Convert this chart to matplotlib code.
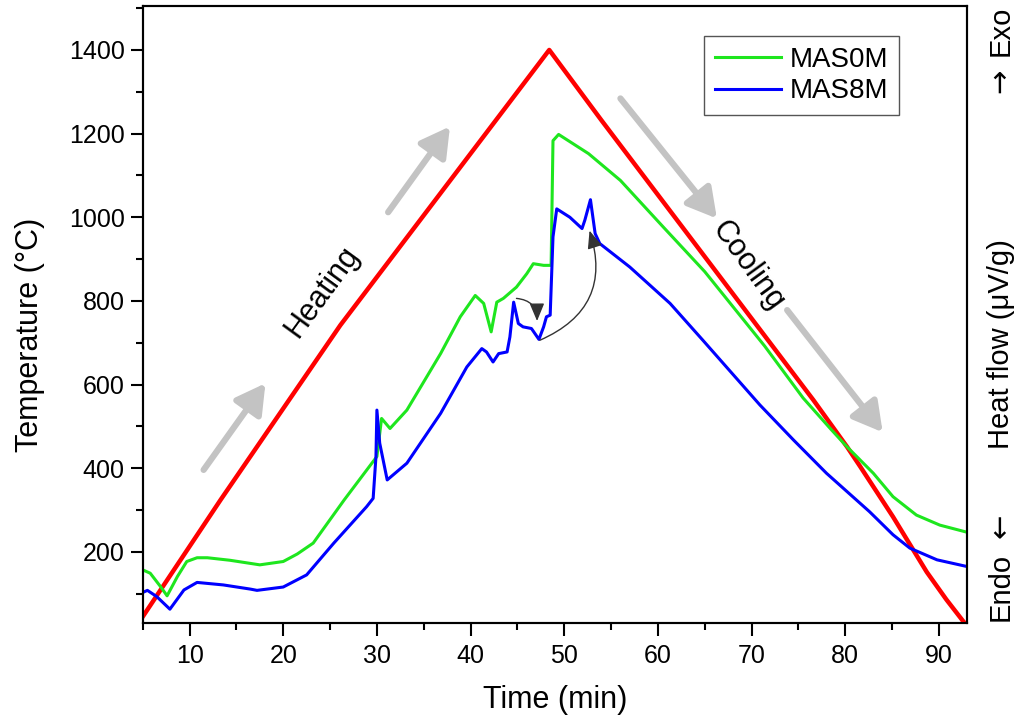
import matplotlib
matplotlib.use("Agg")
import matplotlib.pyplot as plt

plt.rcParams["font.family"] = ["Liberation Sans", "DejaVu Sans"]

# furnace programme (temperature, left axis)
t_temp = [5.0, 13.3, 26.1, 48.4, 54.0, 76.6, 80.2, 81.6, 85.1, 88.7, 90.8, 92.6, 93.2]
temp = [45, 324, 742, 1400, 1231, 563, 451, 404, 284, 152, 86, 34, 18]

# DTA signal MAS0M (arbitrary heat-flow units, drawn on the same scale)
t_mas0 = [5.0, 5.8, 6.9, 7.6, 8.7, 9.7, 10.8, 11.9, 14.3, 17.5, 20.0, 21.5, 23.2,
          26.5, 30.0, 30.5, 31.4, 33.2, 36.8, 38.9, 40.5, 41.4, 42.2, 42.8, 43.5,
          44.9, 46.0, 46.7, 47.8, 48.6, 48.8, 49.4, 52.6, 56.0, 60.6, 65.0, 71.4,
          75.5, 78.4, 80.2, 83.0, 85.1, 87.6, 90.1, 93.0]
hf_mas0 = [157, 149, 117, 95, 141, 177, 186, 186, 180, 169, 177, 195, 221,
           324, 428, 519, 495, 539, 674, 762, 813, 794, 726, 797, 806,
           833, 865, 889, 885, 885, 1183, 1198, 1152, 1088, 976, 870, 692,
           568, 495, 451, 388, 332, 288, 264, 247]

# DTA signal MAS8M
t_mas8 = [5.0, 5.5, 6.5, 7.9, 9.4, 10.8, 13.6, 16.5, 17.2, 20.0, 22.5, 25.4, 28.9,
          29.6, 29.9, 30.0, 30.3, 31.1, 33.2, 36.8, 39.6, 41.2, 41.7, 42.4, 43.0,
          43.9, 44.2, 44.6, 45.1, 45.6, 46.5, 47.3, 47.8, 48.1, 48.5, 48.8, 49.2,
          50.6, 51.9, 52.2, 52.8, 53.3, 53.8, 57.0, 61.3, 64.8, 70.9, 74.5, 78.0,
          82.6, 85.1, 86.9, 89.8, 93.0]
hf_mas8 = [103, 108, 93, 63, 109, 127, 121, 111, 108, 116, 145, 221, 308,
           328, 428, 539, 460, 372, 412, 531, 642, 686, 678, 654, 674,
           678, 714, 797, 746, 738, 734, 708, 738, 762, 766, 953, 1020,
           1000, 973, 993, 1042, 961, 937, 881, 794, 706, 551, 467, 388,
           296, 241, 209, 181, 165]

XLIM = (5, 93)
YLIM = (30, 1505)

fig = plt.figure(figsize=(10.21, 7.25), dpi=100)
ax = fig.add_axes([0.1398, 0.1407, 0.8073, 0.851])
ax.plot(t_temp, temp, color="#ff0000", lw=3.2, solid_joinstyle="round", zorder=3)

ax2 = ax.twinx()
ax2.plot(t_mas0, hf_mas0, color="#1ee61e", lw=2.2, solid_joinstyle="round", label="MAS0M")
ax2.plot(t_mas8, hf_mas8, color="#0000ff", lw=2.2, solid_joinstyle="round", label="MAS8M")
ax2.set_ylim(*YLIM)
ax2.set_yticks([])

ax.set_xlim(*XLIM)
ax.set_ylim(*YLIM)
ax.set_xticks(range(10, 91, 10))
ax.set_xticks(range(5, 93, 5), minor=True)
ax.set_yticks(range(200, 1401, 200))
ax.set_yticks(range(100, 1501, 100), minor=True)
ax.tick_params(which="major", direction="out", length=9, width=1.5, labelsize=18)
ax.tick_params(axis="y", which="major", pad=4)
ax.tick_params(axis="x", which="major", pad=6)
ax.tick_params(which="minor", direction="out", length=5, width=1.5)
for a in (ax, ax2):
    for s in a.spines.values():
        s.set_linewidth(1.5)

ax.set_xlabel("Time (min)", fontsize=22)
ax.set_ylabel("Temperature (\u00b0C)", fontsize=22)
ax.xaxis.set_label_coords(0.5, -0.1)
ax.yaxis.set_label_coords(-0.118, 0.467)

# right-hand heat-flow label
rx = 0.980
fig.text(rx, 0.957, "Exo", rotation=90, ha="center", va="center", fontsize=21)
fig.text(rx, 0.888, "\u2192", rotation=90, ha="center", va="center", fontsize=21,
         family="DejaVu Sans")
fig.text(rx, 0.525, "Heat flow (\u03bcV/g)", rotation=90, ha="center", va="center", fontsize=21)
fig.text(rx, 0.275, "\u2190", rotation=90, ha="center", va="center", fontsize=21,
         family="DejaVu Sans")
fig.text(rx, 0.19, "Endo", rotation=90, ha="center", va="center", fontsize=21)

# gray direction arrows
gray = dict(arrowstyle="-|>,head_length=0.8,head_width=0.45", color="#c3c3c3",
            lw=4.5, mutation_scale=22, shrinkA=0, shrinkB=0)
for start, end in [((11.5, 396), (18.1, 603)), ((31.2, 1012), (37.8, 1217)),
                   ((56.0, 1284), (66.3, 997)), ((73.8, 778), (84.0, 486))]:
    ax.annotate("", xy=end, xytext=start, arrowprops=gray, zorder=2)

ax.text(24.2, 821, "Heating", rotation=54, ha="center", va="center", fontsize=22)
ax.text(69.6, 883, "Cooling", rotation=-54, ha="center", va="center", fontsize=22)

# thin curved arrows linking the MAS8M events
thin = dict(arrowstyle="-|>,head_length=0.6,head_width=0.25", color="#333333",
            lw=1.0, mutation_scale=18, shrinkA=0, shrinkB=0)
ax2.annotate("", xy=(47.1, 752), xytext=(44.9, 806),
             arrowprops=dict(thin, connectionstyle="arc3,rad=-0.45"))
ax2.annotate("", xy=(52.7, 968), xytext=(47.4, 706),
             arrowprops=dict(thin, connectionstyle="arc3,rad=0.45"))

leg = ax2.legend(loc="upper right", bbox_to_anchor=(0.918, 0.952), borderaxespad=0,
                 fontsize=20, fancybox=False, edgecolor="#555555", framealpha=1,
                 handlelength=2.4, handletextpad=0.3, labelspacing=0.2,
                 borderpad=0.4)
leg.get_frame().set_linewidth(1.0)

fig.savefig("out.png", dpi=100)
